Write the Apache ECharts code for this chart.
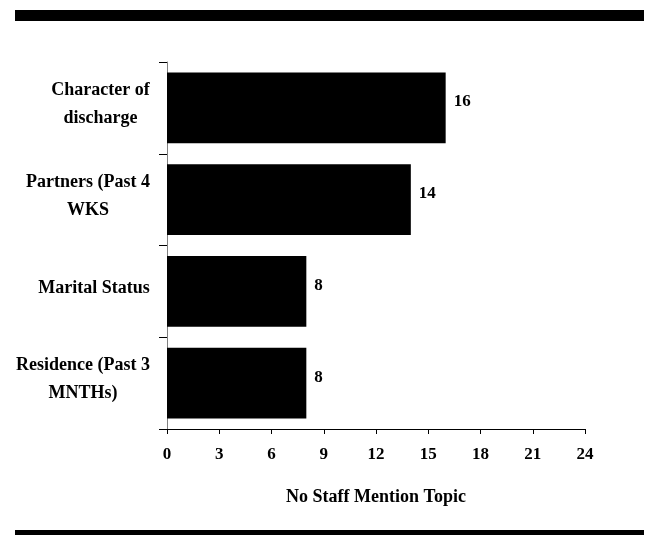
<!DOCTYPE html>
<html>
<head>
<meta charset="utf-8">
<script src="https://cdn.jsdelivr.net/npm/echarts@6/dist/echarts.min.js"></script>
<style>
  html, body { margin: 0; padding: 0; background: #fff; }
  #chart { width: 650px; height: 535px; }
</style>
</head>
<body>
<div id="chart"></div>
<script>
// 항목 / 값
var topics = ['Character of\ndischarge', 'Partners (Past 4\nWKS', 'Marital Status', 'Residence (Past 3\nMNTHs)'];
var counts = [16, 14, 8, 8];
var xTicks = [0, 3, 6, 9, 12, 15, 18, 21, 24];

var fontFam = '"Liberation Serif", "Times New Roman", serif';
var catFont = 'bold 18px ' + fontFam;

// 여러 줄 라벨 가운데 정렬용 폭 계산
var cvs = document.createElement('canvas').getContext('2d');
cvs.font = catFont;
var labelRich = {};
topics.forEach(function (t, i) {
  var w = 0;
  t.split('\n').forEach(function (line) {
    w = Math.max(w, cvs.measureText(line).width);
  });
  labelRich['r' + i] = {
    width: Math.ceil(w),
    align: 'center',
    fontFamily: fontFam,
    fontWeight: 'bold',
    fontSize: 18,
    lineHeight: 28,
    color: '#000'
  };
});

var topicChart = echarts.init(document.getElementById('chart'));

var option = {
  backgroundColor: '#fff',
  animation: false,
  textStyle: { fontFamily: fontFam },
  graphic: [
    { type: 'rect', shape: { x: 15, y: 10, width: 629, height: 11 }, style: { fill: '#000' } },
    { type: 'rect', shape: { x: 15, y: 530, width: 629, height: 6 }, style: { fill: '#000' } }
  ],
  grid: {
    left: 167,
    right: 65,
    top: 62,
    bottom: 106
  },
  xAxis: {
    type: 'value',
    min: xTicks[0],
    max: xTicks[xTicks.length - 1],
    interval: 3,
    name: 'No Staff Mention Topic',
    nameLocation: 'middle',
    nameGap: 59,
    nameTextStyle: { fontFamily: fontFam, fontWeight: 'bold', fontSize: 18, color: '#000' },
    axisLine: { show: true, lineStyle: { color: '#000', width: 1 } },
    axisTick: { show: true, length: 5, lineStyle: { color: '#000' } },
    axisLabel: { margin: 17, fontFamily: fontFam, fontWeight: 'bold', fontSize: 17, color: '#000' },
    splitLine: { show: false }
  },
  yAxis: {
    type: 'category',
    inverse: true,
    data: topics,
    axisLine: { show: true, lineStyle: { color: '#808080', width: 1 } },
    axisTick: { show: true, length: 8, lineStyle: { color: '#000' } },
    axisLabel: {
      margin: 17,
      align: 'right',
      padding: [0, 0, 7, 0],
      formatter: function (value, idx) {
        return value.split('\n').map(function (line) {
          return '{r' + idx + '|' + line + '}';
        }).join('\n');
      },
      rich: labelRich
    }
  },
  series: [
    {
      type: 'bar',
      data: counts,
      barCategoryGap: '23%',
      itemStyle: { color: '#000' },
      label: {
        show: true,
        position: 'right',
        distance: 8,
        offset: [0, -6],
        fontFamily: fontFam,
        fontWeight: 'bold',
        fontSize: 17,
        color: '#000'
      }
    }
  ]
};

topicChart.setOption(option);
</script>
</body>
</html>
